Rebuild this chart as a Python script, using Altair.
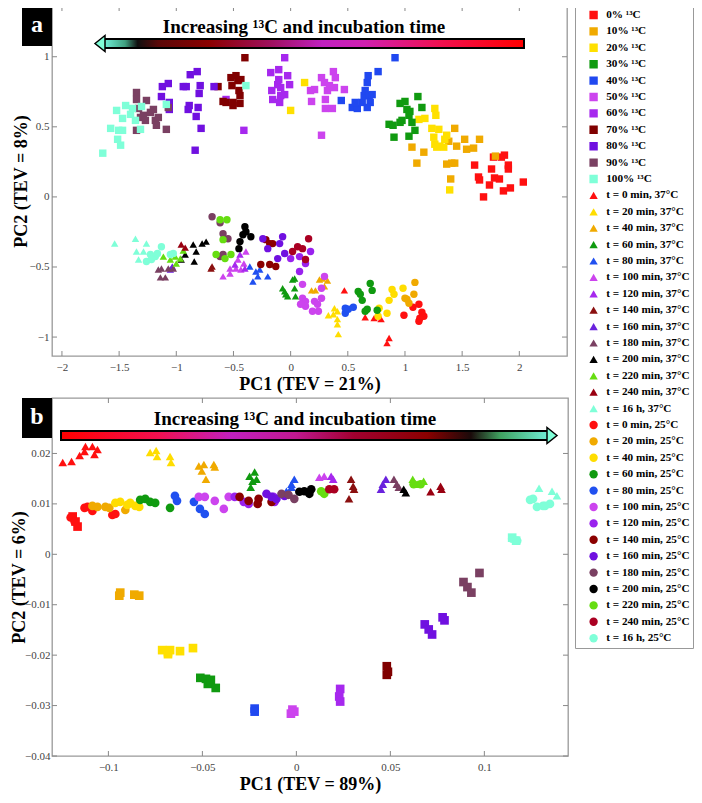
import altair as alt
import pandas as pd

FONT = "Liberation Serif"
CYAN = "#7fffd8"

SQ_LABELS = ["0% ¹³C", "10% ¹³C", "20% ¹³C", "30% ¹³C", "40% ¹³C", "50% ¹³C",
             "60% ¹³C", "70% ¹³C", "80% ¹³C", "90% ¹³C", "100% ¹³C"]
T37_LABELS = ["t = 0 min, 37°C", "t = 20 min, 37°C", "t = 40 min, 37°C", "t = 60 min, 37°C",
              "t = 80 min, 37°C", "t = 100 min, 37°C", "t = 120 min, 37°C", "t = 140 min, 37°C",
              "t = 160 min, 37°C", "t = 180 min, 37°C", "t = 200 min, 37°C", "t = 220 min, 37°C",
              "t = 240 min, 37°C", "t = 16 h, 37°C"]
T25_LABELS = ["t = 0 min, 25°C", "t = 20 min, 25°C", "t = 40 min, 25°C", "t = 60 min, 25°C",
              "t = 80 min, 25°C", "t = 100 min, 25°C", "t = 120 min, 25°C", "t = 140 min, 25°C",
              "t = 160 min, 25°C", "t = 180 min, 25°C", "t = 200 min, 25°C", "t = 220 min, 25°C",
              "t = 240 min, 25°C", "t = 16 h, 25°C"]

SQ_COLORS = ["#ff1010", "#f0aa00", "#ffe000", "#109a10", "#2048f0", "#cc44ee",
             "#a628ee", "#800000", "#7010e0", "#7a4062", CYAN]
T37_COLORS = ["#ff1010", "#ffdd00", "#f0aa00", "#109a10", "#2050f0", "#cc44ee",
              "#a628ee", "#8b1010", "#6a22dd", "#7a4062", "#000000", "#66dd11",
              "#990011", CYAN]
T25_COLORS = ["#ff1010", "#f0aa00", "#ffdd00", "#109a10", "#2050f0", "#cc44ee",
              "#9922ee", "#8b0000", "#7010e0", "#7a4062", "#000000", "#66dd11",
              "#aa0022", CYAN]

# ---------------- panel a values (PC1, PC2) ----------------
A_SQ_X = [
    [1.609, 1.643, 1.652, 1.739, 1.757, 1.783, 1.826, 1.774, 1.843, 1.870, 1.904, 1.904, 1.861, 1.922, 2.035, 1.687],
    [1.435, 1.452, 1.522, 1.539, 1.600, 1.652, 1.061, 1.165, 1.104, 1.365, 1.409, 1.435, 1.400, 1.383, 1.791],
    [0.122, 0.000, 1.261, 1.270, 1.122, 1.174, 1.235, 1.252, 1.261, 1.278, 1.304, 1.339, 1.348, 1.365, 1.296, 1.391],
    [0.957, 1.000, 1.017, 1.043, 1.113, 1.148, 0.974, 0.957, 0.861, 0.896, 1.061, 1.087, 1.035, 0.904, 1.035],
    [0.443, 0.539, 0.583, 0.565, 0.626, 0.643, 0.652, 0.670, 0.678, 0.687, 0.696, 0.713, 0.670, 0.765, 0.913],
    [0.174, 0.183, 0.209, 0.270, 0.296, 0.304, 0.304, 0.322, 0.339, 0.365, 0.374, 0.391, 0.383, 0.270, 0.470],
    [-0.565, -0.409, -0.174, -0.165, -0.157, -0.113, -0.104, -0.096, -0.087, -0.052, -0.052, -0.026, -0.009, -0.104, -0.087],
    [-0.635, -0.591, -0.565, -0.522, -0.513, -0.504, -0.504, -0.478, -0.461, -0.452, -0.443, -0.443, -0.400, -0.435],
    [-1.130, -1.122, -1.070, -1.061, -1.061, -0.939, -0.913, -0.896, -0.887, -0.878, -0.817, -0.791, -0.800, -0.809, -0.826, -0.783, -0.835, -0.670],
    [-1.348, -1.348, -1.330, -1.313, -1.348, -1.261, -1.287, -1.270, -1.226, -1.200, -1.183, -1.174, -1.157, -1.087, -1.070],
    [-1.643, -1.574, -1.522, -1.504, -1.470, -1.513, -1.487, -1.443, -1.470, -1.400, -1.383, -1.357, -1.313, -1.304, -1.087, -0.391],
]
A_SQ_Y = [
    [0.227, 0.142, 0.121, 0.085, 0.199, 0.135, 0.128, 0.284, 0.284, 0.298, 0.227, 0.199, 0.043, 0.064, 0.106, 0.000],
    [0.489, 0.362, 0.411, 0.340, 0.348, 0.411, 0.355, 0.319, 0.241, 0.234, 0.241, 0.241, 0.128, 0.397, 0.291],
    [0.816, 0.617, 0.631, 0.582, 0.553, 0.560, 0.489, 0.426, 0.376, 0.355, 0.362, 0.355, 0.411, 0.440, 0.482, 0.050],
    [0.667, 0.681, 0.624, 0.610, 0.716, 0.638, 0.546, 0.532, 0.518, 0.511, 0.532, 0.475, 0.433, 0.426, 0.582],
    [0.688, 0.638, 0.631, 0.674, 0.674, 0.723, 0.759, 0.816, 0.865, 0.723, 0.674, 0.730, 0.638, 0.894, 0.993],
    [0.759, 0.681, 0.766, 0.851, 0.816, 0.695, 0.631, 0.759, 0.794, 0.631, 0.894, 0.851, 0.780, 0.440, 0.766],
    [0.695, 0.475, 0.887, 0.759, 0.695, 0.801, 0.908, 0.674, 0.723, 0.993, 0.730, 0.865, 0.801, 0.837, 0.780],
    [0.787, 0.681, 0.674, 0.851, 0.794, 0.674, 0.652, 0.865, 0.830, 0.759, 0.723, 0.667, 0.993, 0.837],
    [0.716, 0.787, 0.809, 0.674, 0.624, 0.787, 0.787, 0.624, 0.652, 0.872, 0.894, 0.794, 0.738, 0.638, 0.574, 0.489, 0.333, 0.787],
    [0.745, 0.695, 0.631, 0.567, 0.475, 0.688, 0.582, 0.546, 0.603, 0.624, 0.546, 0.511, 0.567, 0.482, 0.638],
    [0.312, 0.489, 0.617, 0.475, 0.475, 0.411, 0.369, 0.652, 0.560, 0.589, 0.631, 0.546, 0.482, 0.645, 0.660, 0.794],
]
A_T37_X = [
    [0.470, 0.652, 0.730, 0.791, 0.843, 0.861],
    [0.330, 0.383, 0.409, 0.409, 0.409, 0.417, 0.374],
    [0.252, 0.278, 0.322, 0.183, 0.217, 0.296],
    [-0.070, -0.043, 0.017, 0.035, 0.043, -0.052, 0.035, -0.026],
    [-0.357, -0.304, -0.287, -0.330, -0.200, -0.270],
    [-0.591, -0.530, -0.478, -0.435, -0.461, -0.409, -0.391, -0.530],
    [-0.443, -0.400, -0.487],
    [-0.696, -0.687],
    [-1.035, -1.052],
    [-1.157, -1.130, -1.139, -1.096, -1.070, -1.026],
    [-0.922, -0.852, -0.826, -0.843, -0.774, -0.739, -0.957],
    [-1.113, -1.052, -1.009, -0.939, -0.965, -1.000],
    [-0.957, -0.922],
    [-1.539, -1.357, -1.261, -1.348, -1.330, -1.287],
]
A_T37_Y = [
    [-0.667, -0.858, -0.865, -0.872, -1.043, -1.007],
    [-0.844, -0.794, -0.816, -0.872, -0.908, -0.979, -0.837],
    [-0.589, -0.582, -0.596, -0.667, -0.667, -0.638],
    [-0.652, -0.695, -0.589, -0.652, -0.709, -0.674, -0.582, -0.709],
    [-0.496, -0.532, -0.567, -0.603, -0.567, -0.518],
    [-0.567, -0.546, -0.511, -0.518, -0.447, -0.475, -0.390, -0.511],
    [-0.411, -0.511, -0.482],
    [-0.511, -0.496],
    [-0.496, -0.518],
    [-0.518, -0.511, -0.574, -0.574, -0.511, -0.511],
    [-0.411, -0.340, -0.390, -0.461, -0.333, -0.319, -0.447],
    [-0.426, -0.447, -0.426, -0.383, -0.440, -0.475],
    [-0.340, -0.362],
    [-0.333, -0.298, -0.333, -0.390, -0.447, -0.390],
]
A_T25_X = [
    [0.991, 1.122, 1.070, 1.148, 1.165, 1.122, 1.130],
    [1.087, 1.078, 1.017, 1.035, 1.000],
    [0.774, 0.765, 0.843, 0.861, 0.887, 0.904, 0.983],
    [0.591, 0.609, 0.626, 0.696, 0.713, 0.670, 0.757, 0.652],
    [0.478, 0.478, 0.504, 0.548],
    [0.104, 0.104, 0.130, 0.130, 0.209, 0.191, 0.235, 0.243, 0.270, 0.270, 0.296, 0.087],
    [0.000, 0.078, 0.174, 0.130, 0.078],
    [-0.217, -0.183, -0.157, -0.261, -0.183, -0.130],
    [-0.243, -0.200, -0.070, -0.052, -0.096, -0.113],
    [-0.687, -0.617, -0.591, -0.617, -0.591, -0.548],
    [-0.400, -0.417, -0.443, -0.452, -0.348, -0.391],
    [-0.617, -0.557, -0.591, -0.652, -0.522, -0.574],
    [0.017, 0.061, 0.104, 0.157, 0.130],
    [-1.226, -1.183, -1.165, -1.130, -1.261, -1.217, -1.026, -1.052],
]
A_T25_Y = [
    [-0.844, -0.766, -0.787, -0.823, -0.851, -0.887, -0.865],
    [-0.610, -0.695, -0.730, -0.759, -0.723],
    [-0.794, -0.851, -0.830, -0.738, -0.660, -0.695, -0.652],
    [-0.674, -0.695, -0.738, -0.617, -0.667, -0.801, -0.809, -0.816],
    [-0.794, -0.830, -0.801, -0.787],
    [-0.624, -0.723, -0.745, -0.780, -0.745, -0.816, -0.766, -0.816, -0.723, -0.652, -0.567, -0.766],
    [-0.440, -0.532, -0.390, -0.475, -0.426],
    [-0.305, -0.333, -0.333, -0.482, -0.482, -0.496],
    [-0.298, -0.369, -0.284, -0.404, -0.333, -0.440],
    [-0.142, -0.184, -0.262, -0.426, -0.411, -0.298],
    [-0.213, -0.270, -0.319, -0.369, -0.284, -0.248],
    [-0.163, -0.163, -0.305, -0.411, -0.411, -0.440],
    [-0.390, -0.355, -0.369, -0.298, -0.447],
    [-0.411, -0.426, -0.404, -0.355, -0.461, -0.447, -0.404, -0.411],
]

# ---------------- panel b values (PC1, PC2) ----------------
B_SQ_X = [
    [-0.1190, -0.1175, -0.1164],
    [-0.0937, -0.0942, -0.0862, -0.0836],
    [-0.0714, -0.0683, -0.0683, -0.0672, -0.0619, -0.0550],
    [-0.0511, -0.0481, -0.0471, -0.0455, -0.0429],
    [-0.0222, -0.0222],
    [-0.0029, -0.0021, -0.0011],
    [0.0233, 0.0228, 0.0233],
    [0.0481, 0.0487, 0.0481],
    [0.0683, 0.0704, 0.0722, 0.0778, 0.0788],
    [0.0889, 0.0910, 0.0931, 0.0974],
    [0.1148, 0.1169],
]
B_SQ_Y = [
    [0.0075, 0.0065, 0.0055],
    [-0.0076, -0.0082, -0.0080, -0.0082],
    [-0.0190, -0.0194, -0.0198, -0.0190, -0.0192, -0.0186],
    [-0.0245, -0.0247, -0.0257, -0.0249, -0.0265],
    [-0.0306, -0.0312],
    [-0.0316, -0.0308, -0.0312],
    [-0.0267, -0.0282, -0.0292],
    [-0.0222, -0.0233, -0.0239],
    [-0.0139, -0.0149, -0.0159, -0.0125, -0.0131],
    [-0.0055, -0.0065, -0.0076, -0.0037],
    [0.0033, 0.0027],
]
B_T37_X = [
    [-0.1243, -0.1196, -0.1153, -0.1127, -0.1122, -0.1085, -0.1074, -0.1058],
    [-0.0778, -0.0746, -0.0741, -0.0672, -0.0667],
    [-0.0519, -0.0503, -0.0492, -0.0481, -0.0439, -0.0434],
    [-0.0249, -0.0222, -0.0233, -0.0243, -0.0212],
    [-0.0026, -0.0011, -0.0053, -0.0026],
    [0.0122, 0.0148],
    [0.0185, 0.0196],
    [0.0291, 0.0302, 0.0307, 0.0280],
    [0.0460, 0.0476, 0.0450],
    [0.0519, 0.0534, 0.0545],
    [0.0571, 0.0582],
    [0.0619, 0.0646, 0.0677],
    [0.0714, 0.0767, 0.0772],
    [0.1291, 0.1360, 0.1386],
]
B_T37_Y = [
    [0.0182, 0.0184, 0.0196, 0.0204, 0.0214, 0.0214, 0.0198, 0.0208],
    [0.0202, 0.0206, 0.0194, 0.0194, 0.0182],
    [0.0175, 0.0165, 0.0178, 0.0149, 0.0178, 0.0173],
    [0.0155, 0.0163, 0.0145, 0.0133, 0.0149],
    [0.0139, 0.0149, 0.0125, 0.0133],
    [0.0153, 0.0155],
    [0.0155, 0.0149],
    [0.0149, 0.0135, 0.0129, 0.0110],
    [0.0139, 0.0149, 0.0129],
    [0.0149, 0.0139, 0.0133],
    [0.0129, 0.0122],
    [0.0149, 0.0139, 0.0145],
    [0.0124, 0.0135, 0.0129],
    [0.0131, 0.0125, 0.0116],
]
B_T25_X = [
    [-0.1201, -0.1180, -0.1127, -0.1111, -0.1085, -0.0979, -0.0963],
    [-0.1085, -0.1058, -0.1016, -0.0995, -0.0910],
    [-0.0963, -0.0937, -0.0884, -0.0857, -0.0836, -0.0899],
    [-0.0831, -0.0804, -0.0778, -0.0751, -0.0672],
    [-0.0646, -0.0635, -0.0545, -0.0513, -0.0487],
    [-0.0519, -0.0487, -0.0434, -0.0386, -0.0360],
    [-0.0328, -0.0280, -0.0254, -0.0122, -0.0116],
    [-0.0302, -0.0254, -0.0201, -0.0206, -0.0132],
    [-0.0159, -0.0132, -0.0106, -0.0063],
    [-0.0079, -0.0042, -0.0011],
    [0.0016, 0.0042, 0.0079, 0.0069],
    [0.0132, 0.0148, 0.0624, 0.0661],
    [0.0175, 0.0201],
    [0.1243, 0.1280, 0.1312, 0.1349, 0.1259, 0.1323, 0.1148, 0.1175],
]
B_T25_Y = [
    [0.0073, 0.0065, 0.0092, 0.0094, 0.0086, 0.0078, 0.0080],
    [0.0096, 0.0094, 0.0094, 0.0092, 0.0088],
    [0.0102, 0.0104, 0.0102, 0.0096, 0.0094, 0.0098],
    [0.0108, 0.0110, 0.0104, 0.0102, 0.0092],
    [0.0116, 0.0106, 0.0104, 0.0090, 0.0080],
    [0.0114, 0.0114, 0.0106, 0.0090, 0.0114],
    [0.0114, 0.0104, 0.0100, 0.0114, 0.0104],
    [0.0114, 0.0106, 0.0110, 0.0100, 0.0104],
    [0.0120, 0.0114, 0.0110, 0.0116],
    [0.0120, 0.0118, 0.0110],
    [0.0124, 0.0125, 0.0129, 0.0120],
    [0.0125, 0.0120, 0.0139, 0.0139],
    [0.0129, 0.0129],
    [0.0108, 0.0094, 0.0096, 0.0100, 0.0110, 0.0096, 0.0031, 0.0027],
]

A_XTICKS = [-2, -1.5, -1, -0.5, 0, 0.5, 1, 1.5, 2]
A_YTICKS = [-1, -0.5, 0, 0.5, 1]
B_XTICKS = [-0.1, -0.05, 0, 0.05, 0.1]
B_YTICKS = [-0.04, -0.03, -0.02, -0.01, 0, 0.01, 0.02]

ALL_LABELS = SQ_LABELS + T37_LABELS + T25_LABELS
ALL_COLORS = SQ_COLORS + T37_COLORS + T25_COLORS
ALL_SHAPES = ["square"] * len(SQ_LABELS) + ["triangle-up"] * len(T37_LABELS) + ["circle"] * len(T25_LABELS)


def build(groups):
    rows = []
    for labels, xs_list, ys_list in groups:
        for lab, xs, ys in zip(labels, xs_list, ys_list):
            for x, y in zip(xs, ys):
                rows.append({"x": x, "y": y, "series": lab})
    return pd.DataFrame(rows)


df_a = build([(SQ_LABELS, A_SQ_X, A_SQ_Y), (T37_LABELS, A_T37_X, A_T37_Y), (T25_LABELS, A_T25_X, A_T25_Y)])
df_b = build([(SQ_LABELS, B_SQ_X, B_SQ_Y), (T37_LABELS, B_T37_X, B_T37_Y), (T25_LABELS, B_T25_X, B_T25_Y)])

LEGEND = alt.Legend(orient="right", offset=5, padding=3, strokeColor="#999", fillColor="white",
                    labelFont=FONT, labelFontSize=11.2, labelFontWeight="bold", labelColor="black",
                    symbolSize=70, symbolStrokeWidth=0, symbolLimit=60, labelLimit=200,
                    rowPadding=4.4, clipHeight=12, symbolOffset=10, labelOffset=7)

one = pd.DataFrame({"k": [0]})


def panel(df, xdom, ydom, xticks, yticks, W, H, xtitle, ytitle, letter, stops,
          bar_x, bar_x2, head_x, head_path, text_x, size, ylabpad, ytitlepad):
    X = alt.X("x:Q", scale=alt.Scale(domain=xdom, nice=False, zero=False),
              axis=alt.Axis(values=xticks, format="~g", labelPadding=5, titlePadding=3), title=xtitle)
    Y = alt.Y("y:Q", scale=alt.Scale(domain=ydom, nice=False, zero=False),
              axis=alt.Axis(values=yticks, format="~g", labelPadding=ylabpad, titlePadding=ytitlepad), title=ytitle)
    pts = alt.Chart(df).mark_point(filled=True, opacity=1, size=size, strokeWidth=0).encode(
        x=X, y=Y,
        color=alt.Color("series:N", scale=alt.Scale(domain=ALL_LABELS, range=ALL_COLORS), legend=LEGEND, title=None),
        shape=alt.Shape("series:N", scale=alt.Scale(domain=ALL_LABELS, range=ALL_SHAPES), legend=LEGEND, title=None),
    )
    xt = pd.DataFrame({"x": xticks})
    yt = pd.DataFrame({"y": yticks})
    rule = dict(color="#888", strokeWidth=1)
    tb = alt.Chart(xt).mark_rule(**rule).encode(x=X, y=alt.value(H), y2=alt.value(H - 5))
    tt = alt.Chart(xt).mark_rule(**rule).encode(x=X, y=alt.value(0), y2=alt.value(5))
    tl = alt.Chart(yt).mark_rule(**rule).encode(y=Y, x=alt.value(0), x2=alt.value(5))
    tr = alt.Chart(yt).mark_rule(**rule).encode(y=Y, x=alt.value(W), x2=alt.value(W - 5))

    grad = alt.Gradient(gradient="linear", x1=0, x2=1, y1=0, y2=0,
                        stops=[alt.GradientStop(offset=o, color=c) for o, c in stops])
    bar = alt.Chart(one).mark_rect(fill=grad, stroke="black", strokeWidth=2).encode(
        x=alt.value(bar_x), x2=alt.value(bar_x2), y=alt.value(33), y2=alt.value(42))
    head = alt.Chart(one).mark_point(shape=head_path, filled=True, fill=CYAN, stroke="black",
                                     strokeWidth=1.5, size=100, opacity=1).encode(
        x=alt.value(head_x), y=alt.value(37.5))
    txt = alt.Chart(one).mark_text(text="Increasing ¹³C and incubation time", font=FONT, fontSize=19,
                                   fontWeight="bold", color="black", baseline="middle").encode(
        x=alt.value(text_x), y=alt.value(21))
    box = alt.Chart(one).mark_rect(color="black").encode(
        x=alt.value(-30), x2=alt.value(0), y=alt.value(0), y2=alt.value(40))
    lt = alt.Chart(one).mark_text(text=letter, font=FONT, fontSize=24, fontWeight="bold",
                                  color="white", baseline="middle").encode(
        x=alt.value(-15), y=alt.value(19))
    return alt.layer(tb, tt, tl, tr, pts, bar, head, txt, box, lt).properties(width=W, height=H)


stops_a = [(0, "#70f0d8"), (0.05, "#40a080"), (0.08, "#101010"), (0.13, "#5a0808"), (0.25, "#8b0000"),
           (0.40, "#a01060"), (0.52, "#c020c0"), (0.62, "#d020b0"), (0.80, "#f01050"), (1, "#ff0000")]
stops_b = [(0, "#ff0000"), (0.2, "#f01050"), (0.35, "#c020c0"), (0.48, "#c01890"), (0.60, "#a00030"),
           (0.75, "#8b0000"), (0.84, "#1a0a0a"), (0.90, "#40a060"), (1, "#70f0d8")]

pa = panel(df_a, [-2.087, 2.417], [-1.135, 1.362], A_XTICKS, A_YTICKS, 515, 350,
           "PC1 (TEV = 21%)", "PC2 (TEV = 8%)", "a", stops_a,
           52, 472, 48, "M -1 0 L 1 -1.6 L 1 1.6 Z", 252, 55, 3, -1)
pb = panel(df_b, [-0.130, 0.1445], [-0.040, 0.031], B_XTICKS, B_YTICKS, 516, 358,
           "PC1 (TEV = 89%)", "PC2 (TEV = 6%)", "b", stops_b,
           9, 497, 500, "M 1 0 L -1 -1.6 L -1 1.6 Z", 243, 75, 2, -4)

chart = alt.vconcat(pa, pb, spacing=2).properties(
    padding={"left": 1, "top": -4, "right": 0, "bottom": 0}
).configure_view(stroke="#999", strokeWidth=1.3).configure_axis(
    grid=False, domain=False, ticks=False, labelFont=FONT, labelFontSize=11, labelColor="#444",
    titleFont=FONT, titleFontSize=18, titleFontWeight="bold", titleColor="black"
)

chart.save("out.html", embed_options={"renderer": "svg", "actions": False})
